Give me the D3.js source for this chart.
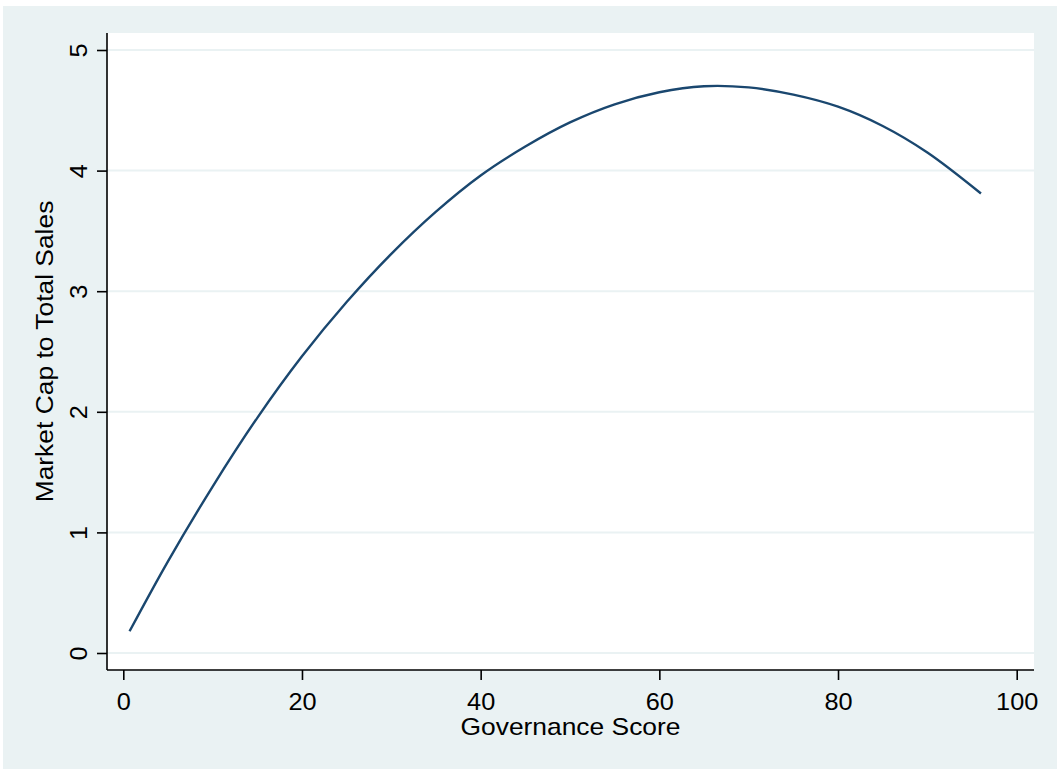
<!DOCTYPE html>
<html>
<head>
<meta charset="utf-8">
<script src="https://cdn.jsdelivr.net/npm/d3@7"></script>
<style>
html,body{margin:0;padding:0;background:#fff;}
svg{display:block;}
text{font-family:"Liberation Sans", Arial, sans-serif;fill:#000;}
</style>
</head>
<body>
<svg id="chart" width="1057" height="769"></svg>
<script>
// Data
const governanceScore = [0.7, 5, 10, 15, 20, 25, 30, 35, 40, 45, 50, 55, 60, 65, 70, 75, 80, 85, 90, 96];
const marketCapToSales = [0.18, 0.76, 1.38, 1.95, 2.46, 2.91, 3.31, 3.66, 3.96, 4.20, 4.40, 4.55, 4.65, 4.70, 4.69, 4.63, 4.53, 4.37, 4.15, 3.81];
const xTicks = [0, 20, 40, 60, 80, 100];
const yTicks = [0, 1, 2, 3, 4, 5];
const xTitle = "Governance Score";
const yTitle = "Market Cap to Total Sales";

const svg = d3.select("#chart");
const W = 1057, H = 769;
const plot = {left: 107, right: 1034, top: 33, bottom: 670};
const stretch = "scale(1.1,1)";

svg.append("rect").attr("x", 3).attr("y", 6).attr("width", W - 3).attr("height", H - 6).attr("fill", "#EAF2F3");
svg.append("rect").attr("x", plot.left).attr("y", plot.top)
  .attr("width", plot.right - plot.left).attr("height", plot.bottom - plot.top).attr("fill", "#fff");

const x = d3.scaleLinear().domain([0, 100]).range([123.3, 1016.7]);
const y = d3.scaleLinear().domain([0, 5]).range([653, 50]);

// gridlines
svg.append("g").selectAll("line").data(yTicks).join("line")
  .attr("x1", plot.left).attr("x2", plot.right)
  .attr("y1", d => y(d)).attr("y2", d => y(d))
  .attr("stroke", "#EAF2F3").attr("stroke-width", 2);

// line
const data = governanceScore.map((g, i) => [g, marketCapToSales[i]]);
svg.append("path").datum(data)
  .attr("fill", "none").attr("stroke", "#1A476F").attr("stroke-width", 2.4)
  .attr("stroke-linejoin", "round").attr("stroke-linecap", "butt")
  .attr("d", d3.line().x(d => x(d[0])).y(d => y(d[1])).curve(d3.curveCatmullRom.alpha(0.5)));

// x axis
const xAxis = d3.axisBottom(x).tickValues(xTicks).tickSize(10).tickFormat(d3.format("d"));
const gx = svg.append("g").attr("transform", `translate(0,${plot.bottom})`).call(xAxis);
gx.select(".domain").remove();
gx.append("line").attr("x1", plot.left).attr("x2", plot.right).attr("y1", 0).attr("y2", 0)
  .attr("stroke", "#000").attr("stroke-width", 1.6);
gx.selectAll(".tick line").attr("stroke", "#000").attr("stroke-width", 1.6);
gx.selectAll(".tick text").attr("font-size", 23).attr("fill", "#000")
  .attr("font-family", "Liberation Sans, Arial, sans-serif").attr("dy", null).attr("y", null)
  .attr("transform", "translate(0,40) " + stretch);

// y axis
const yAxis = d3.axisLeft(y).tickValues(yTicks).tickSize(10).tickFormat(d3.format("d"));
const gy = svg.append("g").attr("transform", `translate(${plot.left},0)`).call(yAxis);
gy.select(".domain").remove();
gy.append("line").attr("x1", 0).attr("x2", 0).attr("y1", plot.top).attr("y2", plot.bottom)
  .attr("stroke", "#000").attr("stroke-width", 1.6);
gy.selectAll(".tick line").attr("stroke", "#000").attr("stroke-width", 1.6);
gy.selectAll(".tick text").attr("font-size", 23).attr("fill", "#000")
  .attr("font-family", "Liberation Sans, Arial, sans-serif")
  .attr("x", null).attr("dy", null).attr("text-anchor", "middle")
  .attr("transform", "translate(-20,0) rotate(-90) " + stretch);

// titles
svg.append("text").attr("transform", `translate(${(plot.left + plot.right) / 2},735) ${stretch}`)
  .attr("text-anchor", "middle").attr("font-size", 24).text(xTitle);
svg.append("text").attr("transform", `translate(53,${(plot.top + plot.bottom) / 2}) rotate(-90) ${stretch}`)
  .attr("text-anchor", "middle").attr("font-size", 24).text(yTitle);
</script>
</body>
</html>
